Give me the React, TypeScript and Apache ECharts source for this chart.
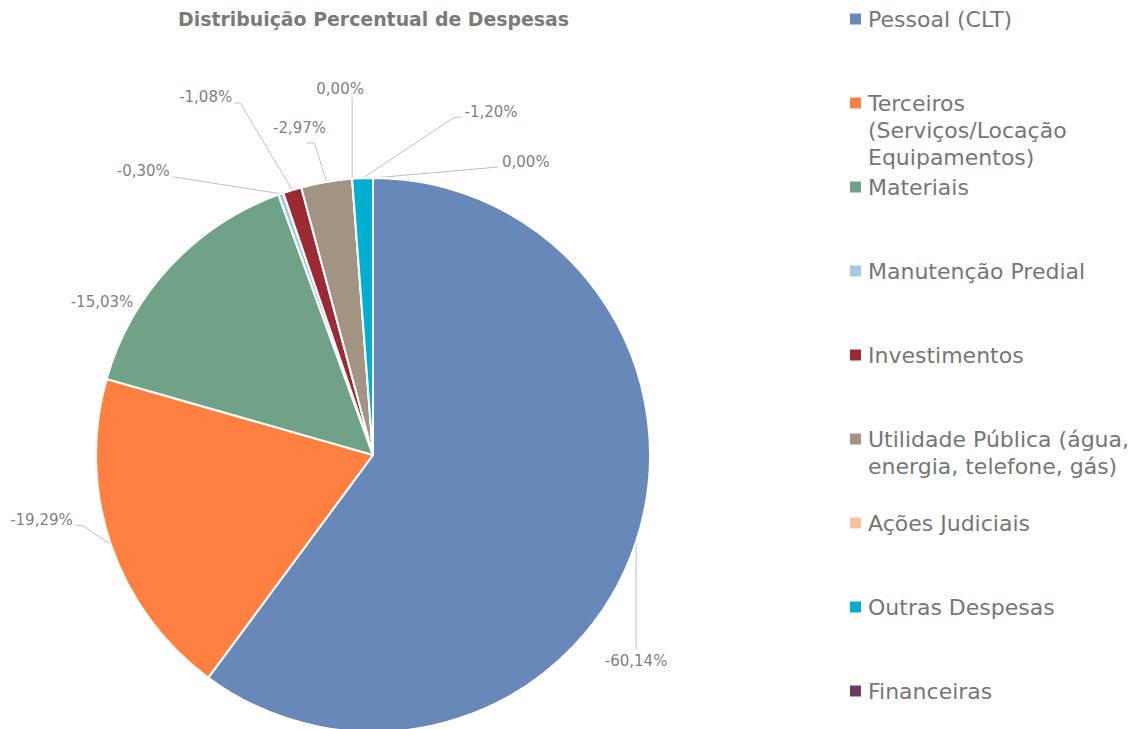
import React, { useEffect, useRef } from "react";
import * as echarts from "echarts";

const titleText = "Distribuição Percentual de Despesas";

const categories = [
  "Pessoal (CLT)",
  "Terceiros (Serviços/Locação Equipamentos)",
  "Materiais",
  "Manutenção Predial",
  "Investimentos",
  "Utilidade Pública (água, energia, telefone, gás)",
  "Ações Judiciais",
  "Outras Despesas",
  "Financeiras",
];

const legendLabels = [
  "Pessoal (CLT)",
  "Terceiros\n(Serviços/Locação\nEquipamentos)",
  "Materiais",
  "Manutenção Predial",
  "Investimentos",
  "Utilidade Pública (água,\nenergia, telefone, gás)",
  "Ações Judiciais",
  "Outras Despesas",
  "Financeiras",
];

// signed percentage shares as shown in the labels
const shares = [-60.14, -19.29, -15.03, -0.3, -1.08, -2.97, 0.0, -1.2, 0.0];

const colors = [
  "#6788B8",
  "#FF8040",
  "#6FA286",
  "#A5CAE4",
  "#9B2A33",
  "#A39383",
  "#FFBFA0",
  "#00AFCF",
  "#6D3A62",
];

// label placement relative to the slice's outer mid-point (styling only)
const labelPlacement = [
  { dx: 0, dy: 119, align: "center", tail: [[0, -11], [0, -11]], hideLine: false },
  { dx: -38, dy: -24, align: "right", tail: [[2, 5], [9, 5]], hideLine: false },
  { dx: -37, dy: 36, align: "right", tail: [[0, 0], [0, 0]], hideLine: true },
  { dx: -111, dy: -23, align: "right", tail: [[3, 6], [3, 6]], hideLine: false },
  { dx: -60, dy: -93, align: "right", tail: [[2, 6], [8, 6]], hideLine: false },
  { dx: -27, dy: -54, align: "center", tail: [[7, 15], [15, 15]], hideLine: false },
  { dx: -12, dy: -90, align: "center", tail: [[12, 8], [12, 8]], hideLine: false },
  { dx: 102, dy: -66, align: "left", tail: [[-3, 5], [-10, 5]], hideLine: false },
  { dx: 129, dy: -16, align: "left", tail: [[-4, 5], [-4, 5]], hideLine: false },
];

const FONT = "'DejaVu Sans', Verdana, sans-serif";
const LEGEND_LINE = 27;
const LEGEND_STEP = 84;
const ICON = 11;

function fmt(v: number): string {
  return v.toFixed(2).replace(".", ",") + "%";
}

// square icon drawn next to the first text line of a (possibly multi-line) legend item
function legendIcon(lines: number): string {
  const h = lines * LEGEND_LINE;
  const y0 = (LEGEND_LINE - ICON) / 2;
  return (
    "path://M0,0h0.01v0.01h-0.01z" +
    `M0,${y0}h${ICON}v${ICON}h-${ICON}z` +
    `M0,${h - 0.01}h0.01v0.01h-0.01z`
  );
}

export default function App() {
  const ref = useRef<HTMLDivElement>(null);

  useEffect(() => {
    if (!ref.current) return;
    const chart = echarts.init(ref.current, null, { renderer: "svg" });

    const data = categories.map((name, i) => ({
      name,
      value: Math.abs(shares[i]),
      itemStyle: { color: colors[i] },
      labelLine: labelPlacement[i].hideLine
        ? { lineStyle: { opacity: 0 } }
        : undefined,
    }));

    const legends = categories.map((name, i) => {
      const lines = legendLabels[i].split("\n").length;
      return {
        data: [name],
        orient: "vertical",
        left: 850,
        top: 5.5 + i * LEGEND_STEP,
        padding: 0,
        itemWidth: ICON,
        itemHeight: lines * LEGEND_LINE,
        itemGap: 0,
        icon: legendIcon(lines),
        symbolKeepAspect: false,
        selectedMode: false,
        itemStyle: { borderWidth: 0 },
        formatter: (n: string) => legendLabels[categories.indexOf(n)],
        textStyle: {
          fontFamily: FONT,
          fontSize: 22,
          color: "#767676",
          lineHeight: LEGEND_LINE,
          padding: [0, 0, 0, 2],
        },
      };
    });

    chart.setOption({
      animation: false,
      backgroundColor: "#ffffff",
      title: {
        text: titleText,
        left: 178,
        top: 9,
        padding: 0,
        textStyle: {
          fontFamily: FONT,
          fontSize: 18.9,
          fontWeight: "bold",
          color: "#7a7a7a",
        },
      },
      legend: legends,
      series: [
        {
          type: "pie",
          center: [373, 455],
          radius: 277,
          startAngle: 90,
          clockwise: true,
          avoidLabelOverlap: false,
          data,
          itemStyle: { borderColor: "#ffffff", borderWidth: 2 },
          label: {
            show: true,
            position: "outside",
            fontFamily: FONT,
            fontSize: 15,
            color: "#7f7f7f",
            formatter: (p: any) => fmt(shares[p.dataIndex]),
          },
          labelLine: {
            show: true,
            length: 10,
            length2: 10,
            smooth: false,
            lineStyle: { color: "#bfbfbf", width: 1 },
          },
          labelLayout: (params: any) => {
            const i = params.dataIndex;
            const pts = params.labelLinePoints;
            if (!pts) return {};
            const ex = pts[0][0];
            const ey = pts[0][1];
            const cfg = labelPlacement[i];
            const x = ex + cfg.dx;
            const y = ey + cfg.dy;
            const linePts = [
              [ex, ey],
              [x + cfg.tail[1][0], y + cfg.tail[1][1]],
              [x + cfg.tail[0][0], y + cfg.tail[0][1]],
            ];
            return {
              x,
              y,
              align: cfg.align,
              verticalAlign: "middle",
              labelLinePoints: linePts,
            };
          },
        },
      ],
    });

    return () => chart.dispose();
  }, []);

  return (
    <div
      ref={ref}
      style={{ position: "fixed", left: 0, top: 0, width: 1139, height: 729 }}
    />
  );
}
